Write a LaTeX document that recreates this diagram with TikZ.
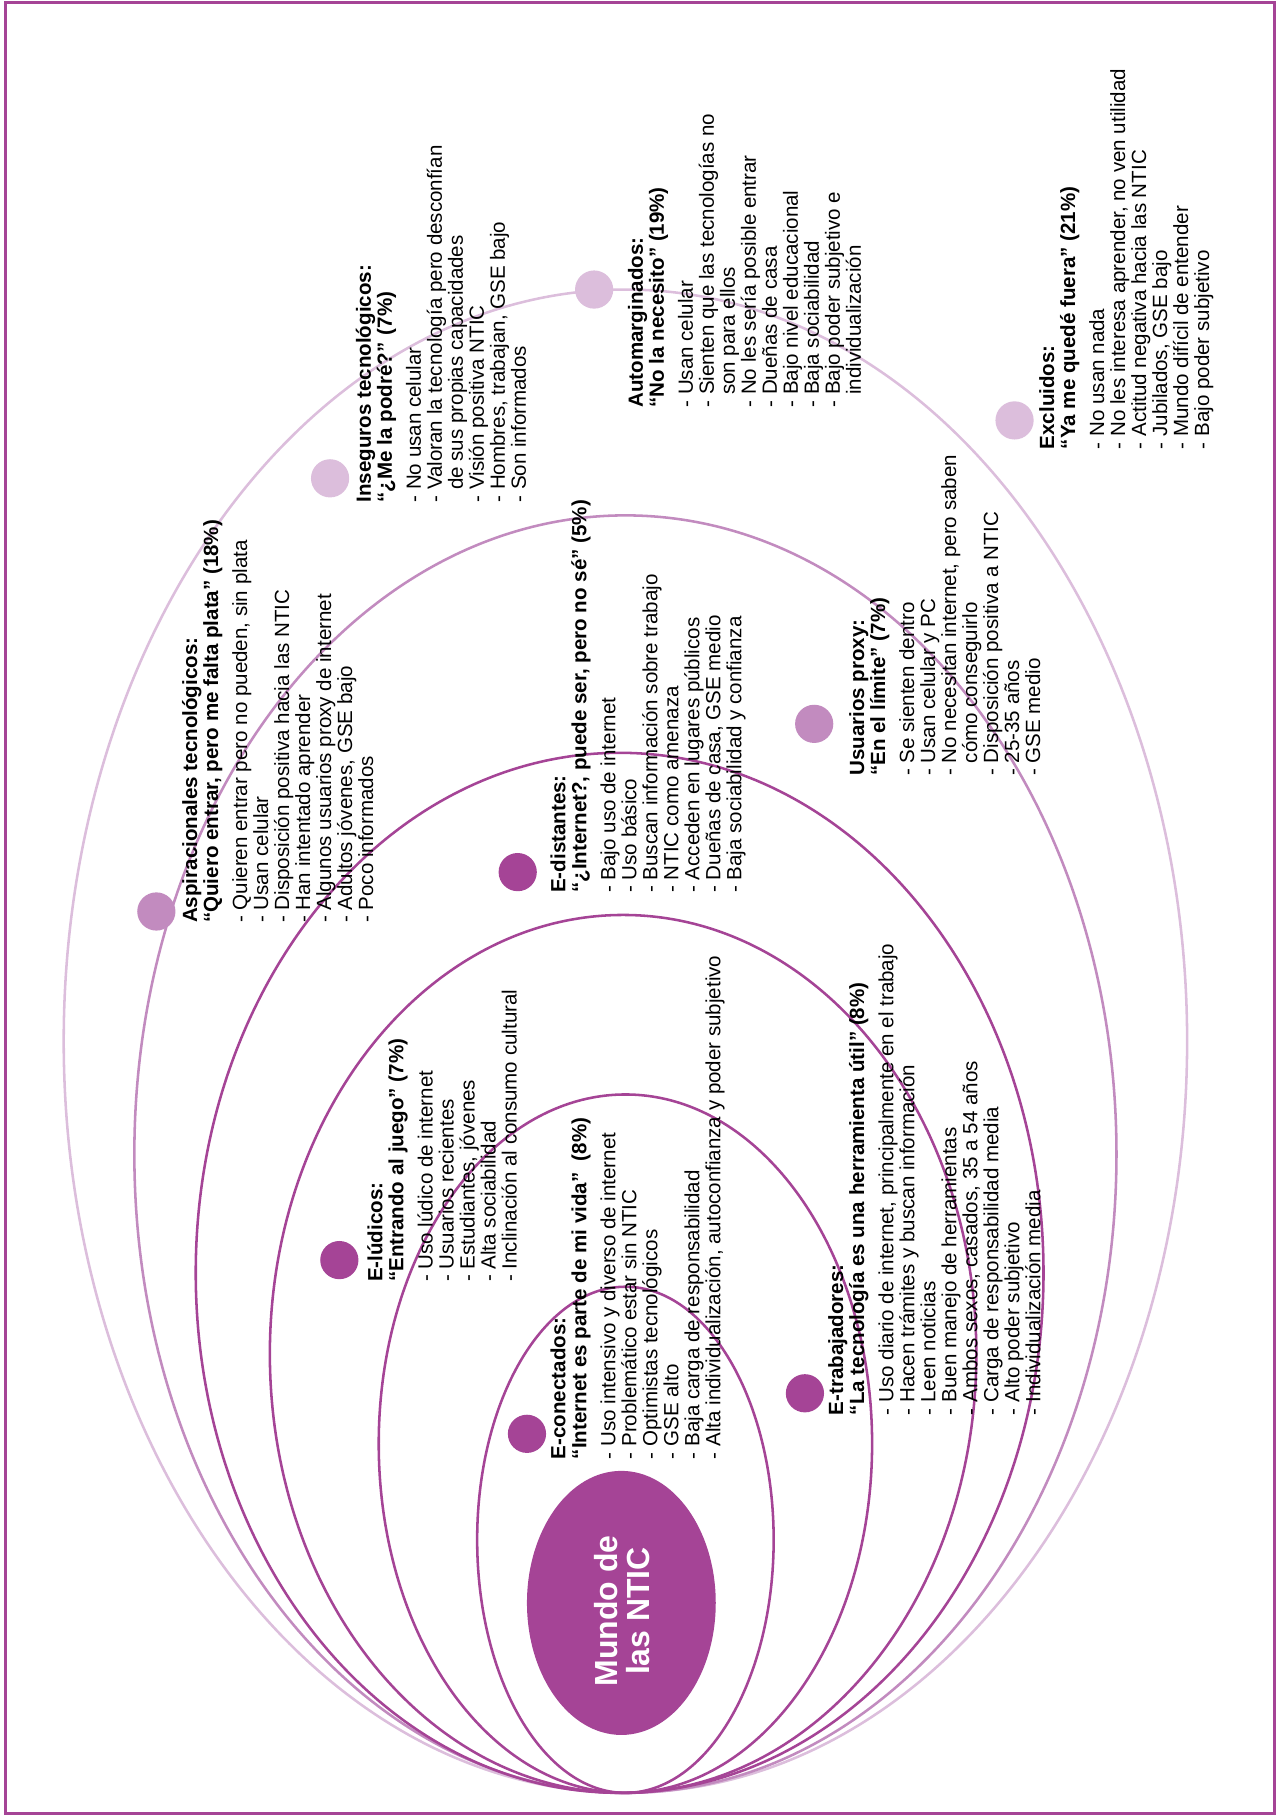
\documentclass[tikz,border=0pt]{standalone}
\usepackage{fontspec}
\setmainfont{Liberation Sans}
\usetikzlibrary{shapes.geometric}
\definecolor{dk}{HTML}{A54496}
\definecolor{md}{HTML}{C28BBF}
\definecolor{lt}{HTML}{DCBEDC}
\begin{document}
\begin{tikzpicture}[x=1bp,y=-1bp,
  blk/.style={rotate=90, anchor=north west, align=left, inner sep=0pt, font=\fontsize{17.8}{18.2}\selectfont},
  dot/.style={circle, inner sep=0pt, minimum size=33bp},
  ring/.style={line width=2.2bp}]
\useasboundingbox (0,0) rectangle (1104,1568);
\draw[dk, line width=2.5bp] (5,2.5) rectangle (1100.5,1565.5);
% rings
\draw[ring, lt] (540,899)    ellipse [x radius=485, y radius=649];
\draw[ring, md] (540,996.5)  ellipse [x radius=424, y radius=551.5];
\draw[ring, dk] (535,1099)   ellipse [x radius=366, y radius=449];
\draw[ring, dk] (538,1169)   ellipse [x radius=305, y radius=379];
\draw[ring, dk] (540,1246.5) ellipse [x radius=213, y radius=301.5];
\draw[ring, dk] (540,1329.5) ellipse [x radius=128, y radius=218.5];
% centre
\node[ellipse, fill=dk, minimum width=163bp, minimum height=228bp, inner sep=0pt] (mundo) at (536.5,1384) {};
\node[rotate=90, text=white, align=center, inner sep=0pt, font=\bfseries\fontsize{27.7}{27.5}\selectfont] (mundot) at (537,1391) {Mundo de\\las NTIC};
% dots
\node[dot, fill=md] (dasp) at (135,787) {};
\node[dot, fill=lt] (dins) at (285,413) {};
\node[dot, fill=lt] (daut) at (513,250) {};
\node[dot, fill=lt] (dexc) at (876,363) {};
\node[dot, fill=dk] (ddis) at (447,753) {};
\node[dot, fill=md] (dpro) at (703,625) {};
\node[dot, fill=dk] (dlud) at (293,1088) {};
\node[dot, fill=dk] (dcon) at (455,1238) {};
\node[dot, fill=dk] (dtra) at (695,1203) {};
% texts
\node[blk] (tasp) at (157,797) {\textbf{Aspiracionales tecnológicos:}\\
\textbf{“Quiero entrar, pero me falta plata” (18\%)}\\[7bp]
- Quieren entrar pero no pueden, sin plata\\
- Usan celular\\
- Disposición positiva hacia las NTIC\\
- Han intentado aprender\\
- Algunos usuarios proxy de internet\\
- Adultos jóvenes, GSE bajo\\
- Poco informados};
\node[blk] (tins) at (307,434) {\textbf{Inseguros tecnológicos:}\\
\textbf{“¿Me la podré?” (7\%)}\\[7bp]
- No usan celular\\
- Valoran la tecnología pero desconfían\\
\phantom{- }de sus propias capacidades\\
- Visión positiva NTIC\\
- Hombres, trabajan, GSE bajo\\
- Son informados};
\node[blk] (taut) at (542,352) {\textbf{Automarginados:}\\
\textbf{“No la necesito” (19\%)}\\[7bp]
- Usan celular\\
- Sienten que las tecnologías no\\
\phantom{- }son para ellos\\
- No les sería posible entrar\\
- Dueñas de casa\\
- Bajo nivel educacional\\
- Baja sociabilidad\\
- Bajo poder subjetivo e\\
\phantom{- }individualización};
\node[blk] (texc) at (897,388) {\textbf{Excluidos:}\\
\textbf{“Ya me quedé fuera” (21\%)}\\[7bp]
- No usan nada\\
- No les interesa aprender, no ven utilidad\\
- Actitud negativa hacia las NTIC\\
- Jubilados, GSE bajo\\
- Mundo difícil de entender\\
- Bajo poder subjetivo};
\node[blk] (tdis) at (475,771) {\textbf{E-distantes:}\\
\textbf{“¿Internet?, puede ser, pero no sé” (5\%)}\\[7bp]
- Bajo uso de internet\\
- Uso básico\\
- Buscan información sobre trabajo\\
- NTIC como amenaza\\
- Acceden en lugares públicos\\
- Dueñas de casa, GSE medio\\
- Baja sociabilidad y confianza};
\node[blk] (tpro) at (733,670) {\textbf{Usuarios proxy:}\\
\textbf{“En el límite” (7\%)}\\[7bp]
- Se sienten dentro\\
- Usan celular y PC\\
- No necesitan internet, pero saben\\
\phantom{- }cómo conseguirlo\\
- Disposición positiva a NTIC\\
- 25-35 años\\
- GSE medio};
\node[blk] (tlud) at (317,1107) {\textbf{E-lúdicos:}\\
\textbf{“Entrando al juego” (7\%)}\\[7bp]
- Uso lúdico de internet\\
- Usuarios recientes\\
- Estudiantes, jóvenes\\
- Alta sociabilidad\\
- Inclinación al consumo cultural};
\node[blk] (tcon) at (475,1260) {\textbf{E-conectados:}\\
\textbf{“Internet es parte de mi vida”\ \ (8\%)}\\[7bp]
- Uso intensivo y diverso de internet\\
- Problemático estar sin NTIC\\
- Optimistas tecnológicos\\
- GSE alto\\
- Baja carga de responsabilidad\\
- Alta individualización, autoconfianza y poder subjetivo};
\node[blk] (ttra) at (715,1222) {\textbf{E-trabajadores:}\\
\textbf{“La tecnología es una herramienta útil” (8\%)}\\[7bp]
- Uso diario de internet, principalmente en el trabajo\\
- Hacen trámites y buscan información\\
- Leen noticias\\
- Buen manejo de herramientas\\
- Ambos sexos, casados, 35 a 54 años\\
- Carga de responsabilidad media\\
- Alto poder subjetivo\\
- Individualización media};
\end{tikzpicture}
\end{document}
